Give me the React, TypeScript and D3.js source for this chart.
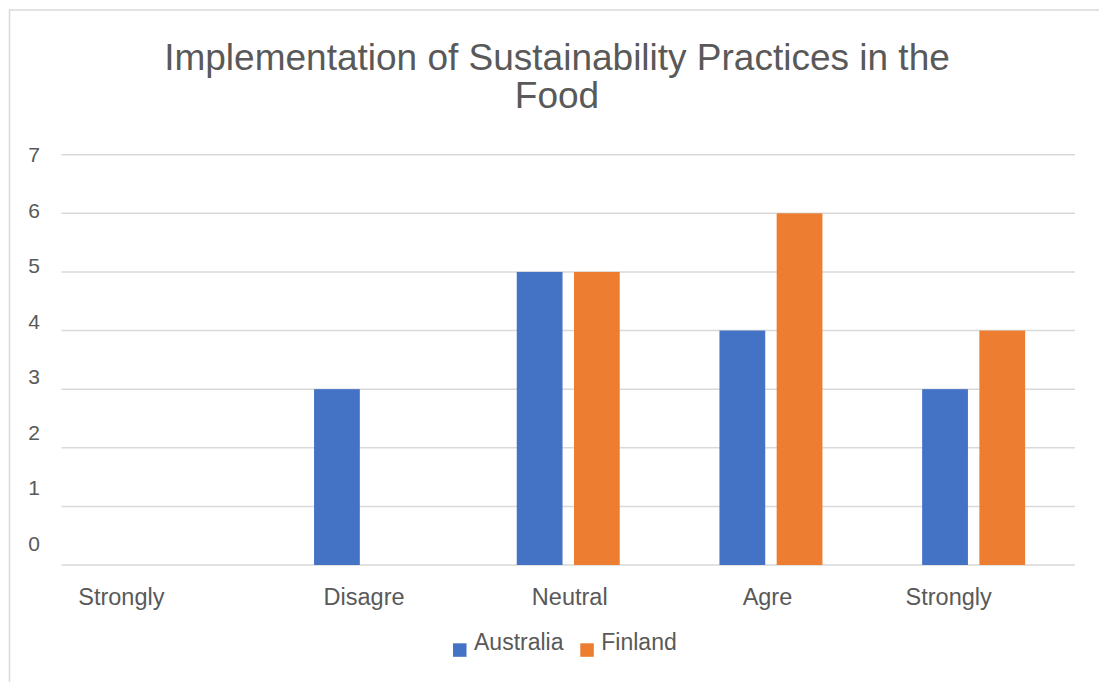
import React, { useEffect, useRef } from "react";
import * as d3 from "d3";

// Survey responses per answer category
const categoryLabels = ["Strongly", "Disagre", "Neutral", "Agre", "Strongly"];
const seriesNames = ["Australia", "Finland"];
const australiaValues = [0, 3, 5, 4, 3];
const finlandValues = [0, 0, 5, 6, 4];
const yTicks = [0, 1, 2, 3, 4, 5, 6, 7];
const seriesColors = ["#4472C4", "#ED7D31"];

const W = 1099;
const H = 682;

export default function App() {
  const ref = useRef<SVGSVGElement | null>(null);

  useEffect(() => {
    document.body.style.margin = "0";
    const svg = d3.select(ref.current);
    svg.selectAll("*").remove();

    const font = "'Liberation Sans', Arial, sans-serif";
    const textColor = "#595959";
    const gridColor = "#d9d9d9";

    const plotLeft = 61.5;
    const plotRight = 1075;
    const plotBottom = 565;
    const plotTop = 154.7;

    // chart frame
    svg
      .append("path")
      .attr("d", `M9.5,${H + 2}V10H${W + 2}`)
      .attr("fill", "none")
      .attr("stroke", gridColor)
      .attr("stroke-width", 1.5);

    // title
    const title = svg
      .append("text")
      .attr("text-anchor", "middle")
      .attr("font-family", font)
      .attr("font-size", 37)
      .attr("fill", textColor);
    title.append("tspan").attr("x", 557).attr("y", 69.5).text("Implementation of Sustainability Practices in the");
    title.append("tspan").attr("x", 557).attr("y", 107.5).text("Food");

    const idx = d3.range(categoryLabels.length);
    const x0 = d3.scaleBand<number>().domain(idx).range([plotLeft, plotRight]).padding(0);
    const y = d3.scaleLinear().domain([0, 7]).range([plotBottom, plotTop]);
    // tick labels sit on their own slightly compressed scale
    const yLabel = d3.scaleLinear().domain([0, 7]).range([543.2, 155]);

    const bw = x0.bandwidth();
    const x1 = d3
      .scaleBand<number>()
      .domain([0, 1])
      .range([bw / 2 - 51.5, bw / 2 + 51.5])
      .paddingInner(0.2)
      .paddingOuter(0);

    // gridlines
    svg
      .append("g")
      .selectAll("line")
      .data(yTicks)
      .join("line")
      .attr("x1", plotLeft)
      .attr("x2", plotRight)
      .attr("y1", (d) => y(d))
      .attr("y2", (d) => y(d))
      .attr("stroke", gridColor)
      .attr("stroke-width", 1.5);

    // y tick labels
    svg
      .append("g")
      .selectAll("text")
      .data(yTicks)
      .join("text")
      .attr("x", 40)
      .attr("y", (d) => yLabel(d))
      .attr("dy", "0.35em")
      .attr("text-anchor", "end")
      .attr("font-family", font)
      .attr("font-size", 21)
      .attr("fill", textColor)
      .text((d) => String(d));

    // bars
    const series = [australiaValues, finlandValues];
    series.forEach((vals, s) => {
      svg
        .append("g")
        .selectAll("rect")
        .data(idx.filter((i) => vals[i] > 0))
        .join("rect")
        .attr("x", (i) => (x0(i) as number) + (x1(s) as number))
        .attr("width", x1.bandwidth())
        .attr("y", (i) => y(vals[i]))
        .attr("height", (i) => y(0) - y(vals[i]))
        .attr("fill", seriesColors[s]);
    });

    // category labels (truncated labels are shifted)
    const labelShift = [-41.5, -1.5, 1.5, -3.5, -25];
    svg
      .append("g")
      .selectAll("text")
      .data(idx)
      .join("text")
      .attr("x", (i) => (x0(i) as number) + bw / 2 + labelShift[i])
      .attr("y", 605)
      .attr("text-anchor", "middle")
      .attr("font-family", font)
      .attr("font-size", 23.5)
      .attr("fill", textColor)
      .text((i) => categoryLabels[i]);

    // legend
    const legendX = [453, 580.3];
    const lg = svg.append("g");
    seriesNames.forEach((name, s) => {
      lg.append("rect")
        .attr("x", legendX[s])
        .attr("y", 643.3)
        .attr("width", 13.5)
        .attr("height", 13.5)
        .attr("fill", seriesColors[s]);
      lg.append("text")
        .attr("x", legendX[s] + 21)
        .attr("y", 650)
        .attr("font-family", font)
        .attr("font-size", 23)
        .attr("fill", textColor)
        .text(name);
    });
  }, []);

  return (
    <svg
      ref={ref}
      width={W}
      height={H}
      style={{ position: "absolute", left: 0, top: 0, background: "#fff", display: "block" }}
    />
  );
}
